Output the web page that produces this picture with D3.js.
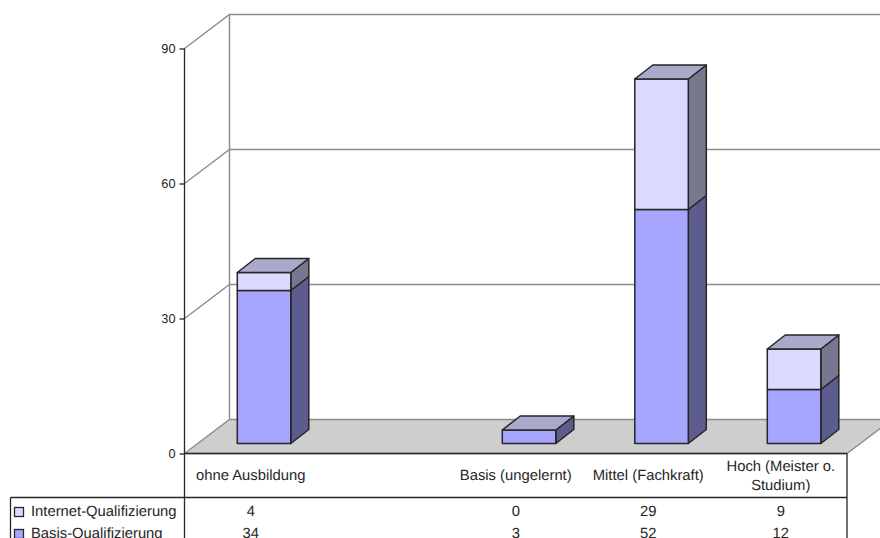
<!DOCTYPE html>
<html><head><meta charset="utf-8">
<script src="https://cdn.jsdelivr.net/npm/d3@7/dist/d3.min.js"></script>
<style>
html,body{margin:0;padding:0;background:#fff;overflow:hidden}
svg{display:block}
text{font-family:"Liberation Sans",Arial,sans-serif;font-size:14.8px;fill:#262626;text-rendering:geometricPrecision}
</style></head><body>
<script>
const categories=["ohne Ausbildung","","Basis (ungelernt)","Mittel (Fachkraft)","Hoch (Meister o.|Studium)"];
const seriesNames=["Basis-Qualifizierung","Internet-Qualifizierung"];
const basisValues=[34,null,3,52,12];
const internetValues=[4,null,0,29,9];
const yTicks=[0,30,60,90];

const W=880,H=538;
const svg=d3.select("body").append("svg").attr("width",W).attr("height",H);
const x=d3.scaleBand().domain(d3.range(categories.length)).range([184.5,847]);
const y=d3.scaleLinear().domain([0,90]).range([453.5,48.5]);
const wall={dx:45,dy:-34}, bar={dx:18,dy:-14,w:53.5,lift:10,shift:13.3};
const colors={
 front:{[seriesNames[0]]:"#a6a6ff",[seriesNames[1]]:"#dadaff"},
 side:{[seriesNames[0]]:"#5c5c8e",[seriesNames[1]]:"#77778f"},
 top:{[seriesNames[0]]:"#a9a9cc",[seriesNames[1]]:"#a9a9cc"}
};
const gray="#8c8c8c",ink="#262626";

// walls
const back=svg.append("g").attr("fill","none").attr("stroke",gray).attr("stroke-width",1.4);
back.append("line").attr("x1",x.range()[0]+wall.dx).attr("x2",x.range()[0]+wall.dx)
  .attr("y1",y(90)+wall.dy).attr("y2",y(0)+wall.dy);
yTicks.filter(d=>d>0).forEach(t=>{
  back.append("path").attr("d",d3.line()([
    [x.range()[0],y(t)],[x.range()[0]+wall.dx,y(t)+wall.dy],[x.range()[1]+wall.dx,y(t)+wall.dy]]));
});
// floor
svg.append("path").attr("fill","#cecece").attr("stroke",gray).attr("stroke-width",1.4).attr("d",d3.line()([
  [x.range()[0],y(0)],[x.range()[0]+wall.dx,y(0)+wall.dy],[x.range()[1]+wall.dx,y(0)+wall.dy],[x.range()[1],y(0)]])+"Z");

// bars
const stack=d3.stack().keys(seriesNames).value((d,k)=>d[k]||0);
const rows=categories.map((c,i)=>({i,[seriesNames[0]]:basisValues[i],[seriesNames[1]]:internetValues[i]}));
const layers=stack(rows);
const barsG=svg.append("g").attr("stroke",ink).attr("stroke-width",1.5).attr("stroke-linejoin","round");
const X0=i=>x(i)+x.bandwidth()/2+bar.shift-bar.w/2;
const Y=v=>y(v)-bar.lift;
layers.forEach(layer=>{
  layer.forEach(seg=>{
    const [a,b]=seg;
    if(b<=a) return;
    const i=seg.data.i,l=X0(i),r=l+bar.w,key=layer.key;
    barsG.append("path").attr("fill",colors.side[key]).attr("d",d3.line()([
      [r,Y(a)],[r+bar.dx,Y(a)+bar.dy],[r+bar.dx,Y(b)+bar.dy],[r,Y(b)]])+"Z");
    barsG.append("rect").attr("fill",colors.front[key]).attr("x",l).attr("width",bar.w).attr("y",Y(b)).attr("height",Y(a)-Y(b));
    if(layer.index===layers.length-1||layers[layer.index+1][i][1]<=layers[layer.index+1][i][0]){
      barsG.append("path").attr("fill",colors.top[key]).attr("d",d3.line()([
        [l,Y(b)],[l+bar.dx,Y(b)+bar.dy],[r+bar.dx,Y(b)+bar.dy],[r,Y(b)]])+"Z");
    }
  });
});

// floor front edge, axis
const frame=svg.append("g").attr("stroke",ink).attr("stroke-width",1.3).attr("fill","none");
frame.append("line").attr("x1",x.range()[0]).attr("x2",x.range()[1]).attr("y1",y(0)).attr("y2",y(0));
const rowTop=497.5;
frame.append("line").attr("x1",x.range()[0]).attr("x2",x.range()[0]).attr("y1",y(90)).attr("y2",H);
frame.append("line").attr("x1",x.range()[1]).attr("x2",x.range()[1]).attr("y1",y(0)).attr("y2",H);
frame.append("line").attr("x1",10.5).attr("x2",x.range()[1]).attr("y1",rowTop).attr("y2",rowTop);
frame.append("line").attr("x1",10.5).attr("x2",10.5).attr("y1",rowTop).attr("y2",H);

const axis=d3.axisLeft(y).tickValues(yTicks).tickSize(5).tickPadding(4).tickFormat(d3.format("d"));
const axG=svg.append("g").attr("transform",`translate(${x.range()[0]},0)`).call(axis);
axG.select(".domain").remove();
axG.selectAll("line").attr("stroke",ink).attr("stroke-width",1.3);
axG.selectAll("text").attr("fill",ink).attr("font-family",null).attr("font-size",null).style("font-size","12.8px");

// category labels
categories.forEach((c,i)=>{
  const parts=c.split("|");
  const cx=x(i)+x.bandwidth()/2;
  const t=svg.append("text").attr("text-anchor","middle").attr("x",cx);
  const y0=parts.length>1?471:480;
  parts.forEach((p,k)=>t.append("tspan").attr("x",cx).attr("y",y0+k*19).text(p));
});

// data table
const table=[{name:seriesNames[1],vals:internetValues,yy:515.5},{name:seriesNames[0],vals:basisValues,yy:537.7}];
table.forEach(r=>{
  svg.append("rect").attr("x",14.5).attr("y",Math.round(r.yy-9)+.5).attr("width",9).attr("height",9)
    .attr("fill",colors.front[r.name]).attr("stroke",ink).attr("stroke-width",1.3);
  svg.append("text").attr("x",31).attr("y",r.yy).text(r.name);
  r.vals.forEach((v,i)=>{
    if(v==null) return;
    svg.append("text").attr("text-anchor","middle").attr("x",x(i)+x.bandwidth()/2).attr("y",r.yy).text(v);
  });
});
</script></body></html>
